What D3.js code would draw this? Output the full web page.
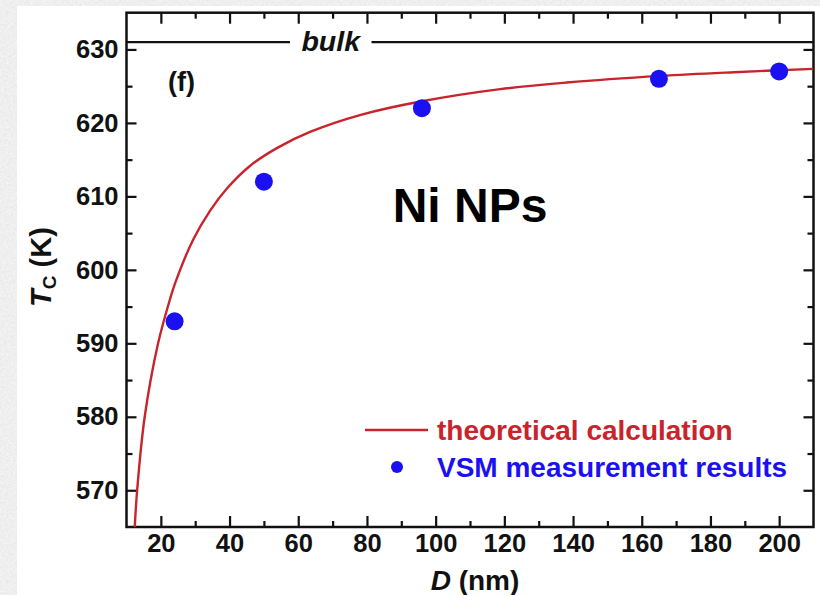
<!DOCTYPE html>
<html>
<head>
<meta charset="utf-8">
<script src="https://cdn.jsdelivr.net/npm/d3@7"></script>
<style>
  html, body { margin: 0; padding: 0; background: #ffffff; }
  svg { display: block; }
  text { font-family: "Liberation Sans", Arial, sans-serif; font-weight: bold; }
</style>
</head>
<body>
<svg id="chart" width="820" height="595"></svg>
<script>
// ---- data ----
const curveD  = [12.4, 13.1, 15.3, 19.2, 22.6, 24.4, 29.4, 34.4, 39.3, 46.1, 53.9, 63.6, 78.2, 96, 118.8, 138.2, 165.5, 186.8, 210];
const curveTc = [565, 570, 580, 590, 595.9, 598.5, 604.1, 608.1, 611.1, 614.2, 616.6, 618.8, 621.1, 622.95, 624.6, 625.5, 626.4, 626.9, 627.35];
const measD   = [24, 50, 96, 165, 200];
const measTc  = [593, 612, 622, 626, 627];
const bulkTc  = 631;
const xMajorTicks = [20, 40, 60, 80, 100, 120, 140, 160, 180, 200];
const xMinorTicks = [30, 50, 70, 90, 110, 130, 150, 170, 190];
const yMajorTicks = [570, 580, 590, 600, 610, 620, 630];
const yMinorTicks = [575, 585, 595, 605, 615, 625];
const xDomain = [10, 210];
const yDomain = [565, 635];
const legendLabels = ["theoretical calculation", "VSM measurement results"];

// ---- layout ----
const L = 126.5, R = 813.5, T = 12.7, B = 527;
const red = "#c9232b", blue = "#1a10f0";

const svg = d3.select("#chart");
const defs = svg.append("defs");

// textured grey backdrop
const filt = defs.append("filter").attr("id", "marble").attr("x", 0).attr("y", 0).attr("width", 1).attr("height", 1);
filt.append("feTurbulence").attr("type", "fractalNoise").attr("baseFrequency", 0.45).attr("numOctaves", 3).attr("seed", 3).attr("result", "n");
filt.append("feColorMatrix").attr("in", "n").attr("type", "matrix")
  .attr("values", "0 0 0 0.16 0.78  0 0 0 0.16 0.78  0 0 0 0.16 0.78  0 0 0 0 1");
svg.append("rect").attr("x", 0).attr("y", 0).attr("width", 820).attr("height", 595).attr("fill", "#dcdcdc").attr("filter", "url(#marble)");
svg.append("rect").attr("x", 17).attr("y", 6).attr("width", 803).attr("height", 589).attr("fill", "#ffffff");

defs.append("clipPath").attr("id", "plotclip").append("rect")
  .attr("x", L).attr("y", T).attr("width", R - L).attr("height", B - T);

const x = d3.scaleLinear().domain(xDomain).range([L, R]);
const y = d3.scaleLinear().domain(yDomain).range([B, T]);

// ---- axes ----
function styleAxis(g) {
  g.select(".domain").remove();
  g.selectAll(".tick line").attr("stroke", "#111").attr("stroke-width", 2.2);
  g.selectAll("text").attr("fill", "#111").style("font-size", "25.5px").style("font-family", '"Liberation Sans", Arial, sans-serif').style("font-weight", "bold");
}
// bottom
svg.append("g").attr("transform", `translate(0,${B})`)
  .call(d3.axisBottom(x).tickValues(xMajorTicks).tickSize(-11).tickPadding(7).tickFormat(d3.format("d")))
  .call(styleAxis);
svg.append("g").attr("transform", `translate(0,${B})`)
  .call(d3.axisBottom(x).tickValues(xMinorTicks).tickSize(-6).tickFormat(""))
  .call(styleAxis);
// top (mirror)
svg.append("g").attr("transform", `translate(0,${T})`)
  .call(d3.axisTop(x).tickValues(xMajorTicks).tickSize(-11).tickFormat(""))
  .call(styleAxis);
svg.append("g").attr("transform", `translate(0,${T})`)
  .call(d3.axisTop(x).tickValues(xMinorTicks).tickSize(-6).tickFormat(""))
  .call(styleAxis);
// left
svg.append("g").attr("transform", `translate(${L},0)`)
  .call(d3.axisLeft(y).tickValues(yMajorTicks).tickSize(-10).tickPadding(8).tickFormat(d3.format("d")))
  .call(styleAxis);
svg.append("g").attr("transform", `translate(${L},0)`)
  .call(d3.axisLeft(y).tickValues(yMinorTicks).tickSize(-6).tickFormat(""))
  .call(styleAxis);
// right (mirror)
svg.append("g").attr("transform", `translate(${R},0)`)
  .call(d3.axisRight(y).tickValues(yMajorTicks).tickSize(-10).tickFormat(""))
  .call(styleAxis);
svg.append("g").attr("transform", `translate(${R},0)`)
  .call(d3.axisRight(y).tickValues(yMinorTicks).tickSize(-6).tickFormat(""))
  .call(styleAxis);

// frame
svg.append("rect").attr("x", L).attr("y", T).attr("width", R - L).attr("height", B - T)
  .attr("fill", "none").attr("stroke", "#111").attr("stroke-width", 2.5);

// ---- bulk line ----
const bulkGapL = 290, bulkGapR = 371.5;
svg.append("line").attr("x1", L).attr("x2", bulkGapL).attr("y1", y(bulkTc)).attr("y2", y(bulkTc))
  .attr("stroke", "#111").attr("stroke-width", 2.2);
svg.append("line").attr("x1", bulkGapR).attr("x2", R).attr("y1", y(bulkTc)).attr("y2", y(bulkTc))
  .attr("stroke", "#111").attr("stroke-width", 2.2);
svg.append("text").attr("x", (bulkGapL + bulkGapR) / 2).attr("y", y(bulkTc) + 9)
  .attr("text-anchor", "middle").style("font-size", "28.5px").style("font-style", "italic")
  .attr("fill", "#111").text("bulk");

// ---- theoretical curve ----
const curveData = curveD.map((d, i) => [d, curveTc[i]]);
svg.append("path").datum(curveData)
  .attr("clip-path", "url(#plotclip)")
  .attr("fill", "none").attr("stroke", red).attr("stroke-width", 2.4)
  .attr("d", d3.line().x(d => x(d[0])).y(d => y(d[1])).curve(d3.curveCatmullRom.alpha(0.5)));

// ---- measured points ----
svg.append("g").selectAll("circle").data(measD.map((d, i) => [d, measTc[i]])).join("circle")
  .attr("cx", d => x(d[0])).attr("cy", d => y(d[1])).attr("r", 9).attr("fill", blue);

// ---- annotations ----
svg.append("text").attr("x", 168).attr("y", 91).style("font-size", "27px").attr("fill", "#111").text("(f)");
svg.append("text").attr("x", 470).attr("y", 222).attr("text-anchor", "middle")
  .style("font-size", "48px").attr("fill", "#000").text("Ni NPs");

// ---- legend ----
svg.append("line").attr("x1", 365).attr("x2", 428).attr("y1", 430).attr("y2", 430)
  .attr("stroke", red).attr("stroke-width", 2.4);
svg.append("text").attr("x", 437).attr("y", 439.5).style("font-size", "28px").attr("fill", red).text(legendLabels[0]);
svg.append("circle").attr("cx", 397).attr("cy", 467).attr("r", 6).attr("fill", blue);
svg.append("text").attr("x", 437).attr("y", 477).style("font-size", "28px").attr("fill", blue).text(legendLabels[1]);

// ---- axis titles ----
const xt = svg.append("text").attr("x", 475).attr("y", 589.5).attr("text-anchor", "middle")
  .style("font-size", "28px").attr("fill", "#111");
xt.append("tspan").style("font-style", "italic").text("D");
xt.append("tspan").text(" (nm)");

const yt = svg.append("text").attr("transform", "translate(51,267) rotate(-90)").attr("text-anchor", "middle")
  .style("font-size", "29px").attr("fill", "#111");
yt.append("tspan").style("font-style", "italic").text("T");
yt.append("tspan").attr("dy", 5).style("font-size", "19px").text("C");
yt.append("tspan").attr("dy", -5).text(" (K)");
</script>
</body>
</html>
